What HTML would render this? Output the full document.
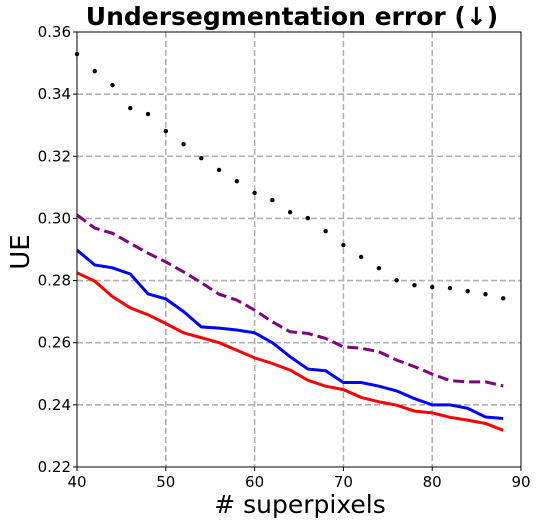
<!DOCTYPE html>
<html><head><meta charset="utf-8"><style>
body{margin:0;background:#fff;width:539px;height:524px;overflow:hidden;font-family:"DejaVu Sans","Liberation Sans",sans-serif}
svg text{font-family:"DejaVu Sans","Liberation Sans",sans-serif}
</style></head><body>
<svg id="chart" width="539" height="524" xmlns="http://www.w3.org/2000/svg"></svg>
<script>
const xs=[40,42,44,46,48,50,52,54,56,58,60,62,64,66,68,70,72,74,76,78,80,82,84,86,88];
const blue=[0.2898,0.285,0.2841,0.2821,0.2757,0.2741,0.270,0.2651,0.2647,0.2641,0.2632,0.260,0.2555,0.2515,0.251,0.2472,0.2472,0.246,0.2445,0.242,0.240,0.240,0.2389,0.2361,0.2356];
const red=[0.2825,0.2798,0.2748,0.2712,0.269,0.2662,0.2632,0.2616,0.26,0.2576,0.2551,0.2533,0.2512,0.2479,0.246,0.2449,0.2424,0.241,0.2399,0.238,0.2374,0.236,0.2351,0.234,0.2318];
const purple=[0.3011,0.2969,0.2952,0.292,0.2888,0.286,0.2828,0.2793,0.2756,0.2737,0.2705,0.2667,0.2635,0.263,0.2614,0.2587,0.2582,0.2571,0.2544,0.2523,0.2499,0.2478,0.2474,0.2474,0.2461];
const dots=[0.3529,0.3474,0.3429,0.3355,0.3336,0.3281,0.3239,0.3194,0.3156,0.312,0.3082,0.3059,0.302,0.3001,0.2959,0.2914,0.2876,0.284,0.2801,0.2785,0.2779,0.2776,0.2766,0.2756,0.2743];
const xTicks=[40,50,60,70,80,90];
const yTicks=[0.22,0.24,0.26,0.28,0.30,0.32,0.34,0.36];
const X0=77,X1=521,Y0=467,Y1=32;
const sx=v=>X0+(v-40)/(90-40)*(X1-X0);
const sy=v=>Y0-(v-0.22)/(0.36-0.22)*(Y0-Y1);
const svg=document.getElementById('chart');
const NS='http://www.w3.org/2000/svg';
function mk(t,a,txt){const e=document.createElementNS(NS,t);for(const k in a)e.setAttribute(k,a[k]);if(txt!==undefined)e.textContent=txt;svg.appendChild(e);return e;}
xTicks.forEach(t=>{
 if(t>40&&t<90){const g=mk('line',{x1:sx(t),x2:sx(t),y1:Y1,y2:Y0,stroke:'#b0b0b0','stroke-width':1.6,'stroke-dasharray':'6,3'});
 
 }
 const l=mk('line',{x1:sx(t),x2:sx(t),y1:Y0,y2:Y0+4,stroke:'#000'});
 
 
 const tx=mk('text',{x:sx(t),y:Y0+20,'text-anchor':'middle','font-size':15},String(t));
 
 
});
yTicks.forEach(t=>{
 if(t>0.22&&t<0.36){const g=mk('line',{x1:X0,x2:X1,y1:sy(t),y2:sy(t),stroke:'#b0b0b0','stroke-width':1.6,'stroke-dasharray':'6,3'});
 
 }
 const l=mk('line',{x1:X0-4,x2:X0,y1:sy(t),y2:sy(t),stroke:'#000'});
 
 
 const tx=mk('text',{x:X0-6,y:sy(t)+5,'text-anchor':'end','font-size':15},t.toFixed(2));
 
 
});
function path(arr){return arr.map((v,i)=>(i?'L':'M')+sx(xs[i]).toFixed(1)+','+sy(v).toFixed(1)).join('');}
const pp=mk('path',{d:path(purple),fill:'none',stroke:'#800080','stroke-width':3,'stroke-dasharray':'11,5'});


const bp=mk('path',{d:path(blue),fill:'none',stroke:'#0000ff','stroke-width':3});


const rp=mk('path',{d:path(red),fill:'none',stroke:'#ff0000','stroke-width':3});


dots.forEach((v,i)=>{const c=mk('circle',{cx:sx(xs[i]),cy:sy(v),r:2.2,fill:'#000'});
 
 });
const fr=mk('rect',{x:X0,y:Y1,width:X1-X0,height:Y0-Y1,fill:'none',stroke:'#000','stroke-width':1});


const ti=mk('text',{x:292,y:25,'text-anchor':'middle','font-size':25,'font-weight':'bold'},'Undersegmentation error (↓)');


const xl=mk('text',{x:300,y:513,'text-anchor':'middle','font-size':25},'# superpixels');


const yl=mk('text',{x:29,y:252,'text-anchor':'middle','font-size':26,transform:'rotate(-90 29 252)'},'UE');


</script>
</body></html>
